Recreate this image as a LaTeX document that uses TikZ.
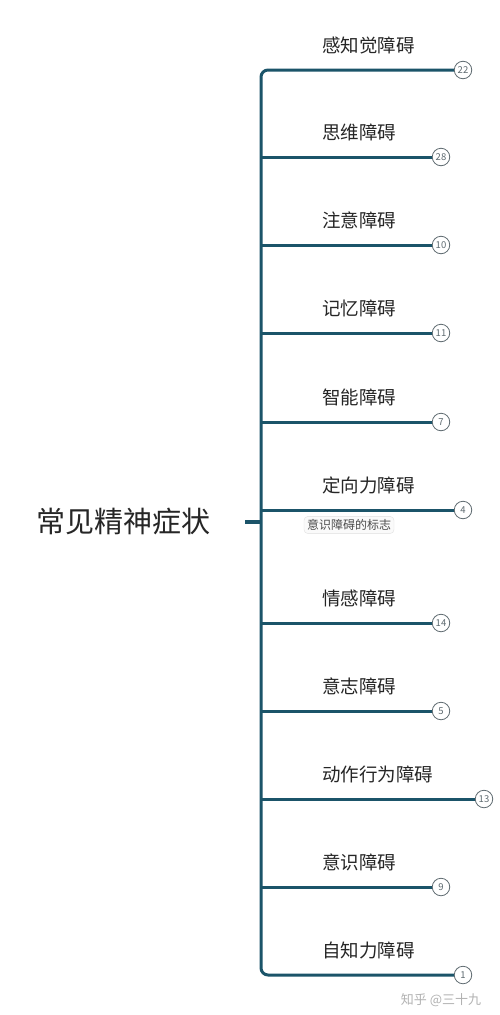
\documentclass[tikz,border=0pt]{standalone}
\usepackage{fontspec}
\newfontfamily\cjk{Noto Sans CJK SC}
\usetikzlibrary{positioning}
\definecolor{trunkTeal}{HTML}{1B5469}
\definecolor{muted}{HTML}{5E6A70}
\tikzset{
  branch/.style={draw=trunkTeal,line width=3pt},
  tag/.style={circle,draw=muted,fill=white,line width=0.8pt,minimum size=17.5pt,inner sep=0pt,font=\cjk\fontsize{9.5}{9.5}\selectfont,text=muted},
  label/.style={anchor=south west,inner sep=0pt,font=\cjk\fontsize{18.5}{20}\selectfont,text=black!85}
}

\begin{document}
\begin{tikzpicture}[x=1pt,y=-1pt]
  \useasboundingbox[fill=white] (0,0) rectangle (500,1015);
  % root topic
  \node[font=\cjk\fontsize{29}{32}\selectfont,text=black!85] (root) at (123,521) {常见精神症状};
  \coordinate (stub) at (245,522);
  \coordinate (joint) at (261,522);
  % branches: y / end x / label / count
  \foreach \i/\y/\ex/\txt/\num in {1/70/463/感知觉障碍/22,2/157/441/思维障碍/28,3/245/441/注意障碍/10,4/333/441/记忆障碍/11,5/422/441/智能障碍/7,6/510/463/定向力障碍/4,7/623/441/情感障碍/14,8/711/441/意志障碍/5,9/799/484/动作行为障碍/13,10/887/441/意识障碍/9,11/975/463/自知力障碍/1}{
    \coordinate (t\i) at (261,\y);
    \node[tag] (n\i) at (\ex,\y) {\num};
    \node[label] (l\i) at (322,\y-16) {\txt};
  }
  \draw[branch,rounded corners=7pt] (n1.west) -- (t1) -- (t11) -- (n11.west);
  \foreach \i in {2,...,10}{
    \draw[branch] (t\i) -- (n\i.west);
  }
  \draw[branch,line width=4pt] (stub) -- (joint);
  % note under the orientation branch
  \node[draw=black!12,fill=black!2,rounded corners=4pt,inner sep=3pt,font=\cjk\fontsize{12}{12}\selectfont,text=black!70] (note) at (349,525) {意识障碍的标志};
  % watermark
  \node[font=\cjk\fontsize{13}{14}\selectfont,text=black!30] (mark) at (441,1000) {知乎 @三十九};
\end{tikzpicture}
\end{document}
